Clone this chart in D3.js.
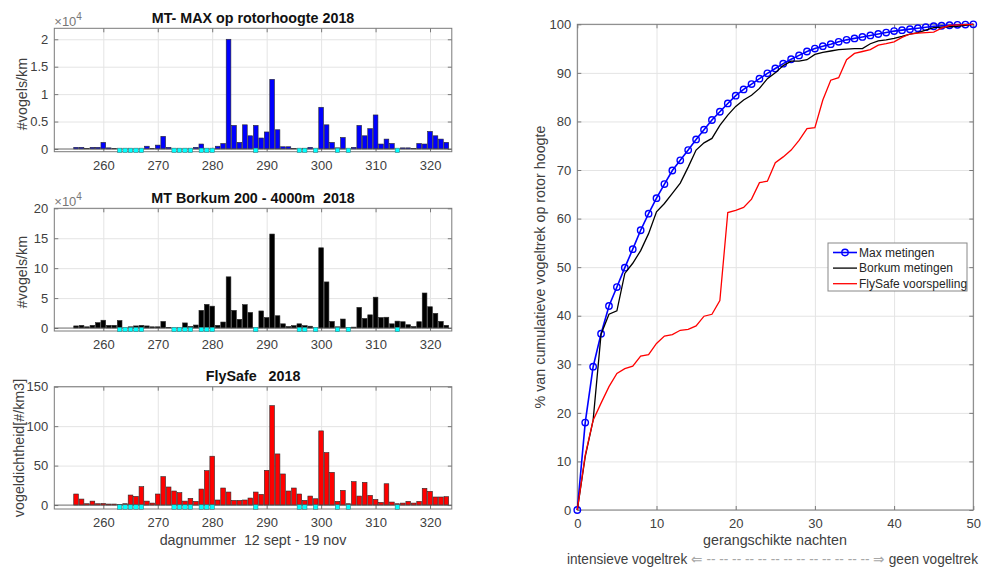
<!DOCTYPE html>
<html>
<head>
<meta charset="utf-8">
<script src="https://cdn.jsdelivr.net/npm/d3@7"></script>
<style>
body{margin:0;background:#fff}
svg{font-family:"Liberation Sans",Arial,Helvetica,sans-serif}
svg text{white-space:pre}
</style>
</head>
<body>
<svg id="chart" width="982" height="567"></svg>
<script>
// Day numbers 255..323 (12 sept - 19 nov)
const days=d3.range(255,324);
const dayTicks=[260,270,280,290,300,310,320];

// MT-MAX at rotor height, birds/km
const maxRotor=[300,300,50,300,300,1200,200,100,0,0,0,0,0,500,50,700,2300,300,0,0,0,0,300,900,0,0,
  500,1000,20000,4300,1200,4400,2400,4300,2000,3100,12700,3500,400,400,100,0,100,300,0,7600,
  4400,1200,200,2100,0,300,4300,2400,3700,6200,900,1800,1000,0,200,200,100,1000,900,3200,2400,1800,1200];
// MT Borkum 200-4000 m, birds/km
const borkum=[3500,4500,2000,4500,9000,13000,4500,4500,12500,0,2000,3500,4500,3500,2000,2000,11000,1000,0,0,
  8500,2500,5000,29500,39500,36500,4500,10000,85500,29500,14500,39000,26000,0,28500,17500,157000,20500,7000,2500,
  4000,7000,4000,3000,0,134000,77000,11000,2000,15000,1000,1500,34500,16000,22000,51500,17500,18000,7000,11500,
  10500,5500,2500,10500,58500,35500,24500,11000,4500];
// FlySafe bird density, #/km3
const flySafe=[14,7.6,1.7,5,1.7,2,1.3,1.3,0.8,1.7,12.7,11,23.3,5,2.5,14,36,22.9,17.8,15.7,5,8.5,4.7,20.3,43.6,61.9,
  6.4,21.6,16.5,5.9,5.9,6.4,8.9,16.5,13.6,44,126,64.8,39.4,17.8,21.6,14,5.9,11.4,8,94,66.5,41.5,4.7,18.6,1.7,
  29.7,11.4,28.8,12.3,7.2,3.4,27,3.8,1.7,2.5,4.7,2.5,4.7,21.2,17.4,10.2,10.2,10.6];
// days marked cyan under the bars
const markedDays=[263,264,265,266,267,273,274,275,276,278,279,280,288,296,297,299,303,305,314];

// Ranked nights, cumulative %
const ranks=d3.range(0,51);
const cumMax=[0,18.0,29.5,36.3,42.0,45.9,49.9,53.7,57.6,61.0,64.2,67.1,69.9,72.0,74.1,76.3,78.3,80.3,82.0,83.7,
  85.3,86.6,87.7,88.8,89.9,90.9,91.9,92.8,93.6,94.4,95.0,95.5,95.9,96.4,96.8,97.1,97.4,97.7,98.0,98.3,
  98.6,98.8,99.0,99.2,99.4,99.6,99.7,99.8,99.9,99.95,100];
const cumBorkum=[0,11,18.5,36.2,40.3,41.0,48.7,50.8,53.4,56.9,61.4,63.1,65.2,67.3,70.6,74.1,75.6,76.5,79.2,81.3,
  83.1,84.4,85.4,86.8,88.8,90.0,91.5,92.4,92.4,92.7,93.8,94.2,94.5,94.8,94.9,95.0,95.0,96.0,96.6,96.8,
  97.1,97.5,98.0,98.3,98.8,99.3,99.4,99.5,99.6,99.8,100];
const cumFlySafe=[0,11.3,18.5,22,25.4,28.1,29.1,29.6,31.7,32.0,34.3,35.8,36.1,37.0,37.2,37.9,39.9,40.3,43.1,61.25,
  61.7,62.3,64.0,67.4,67.7,71.5,72.7,74.1,76.1,78.5,78.7,84.4,88.5,89.0,92.7,94.0,94.4,94.8,95.7,96.0,
  96.4,97.3,98.0,98.2,98.3,98.4,99.2,99.8,99.9,99.95,100];
const legendLabels=["Max metingen","Borkum metingen","FlySafe voorspelling"];

const svg=d3.select("#chart");
const colText="#404040",colAxis="#7a7a7a",colGrid="#e4e4e4";
const fsTick="13px",fsLabel="14.3px";

// draw grid+ticks+frame for an axes box
function axesBox(g,x,y,xt,yt,xfmt,yfmt){
  const [x0,x1]=x.range(),[y1,y0]=y.range();
  g.append("g").attr("transform","translate(0,"+y1+")")
    .call(d3.axisBottom(x).tickValues(xt).tickSize(-(y1-y0)).tickFormat(""))
    .call(a=>{a.select(".domain").remove();a.selectAll("line").attr("stroke",colGrid)});
  g.append("g").attr("transform","translate("+x0+",0)")
    .call(d3.axisLeft(y).tickValues(yt).tickSize(-(x1-x0)).tickFormat(""))
    .call(a=>{a.select(".domain").remove();a.selectAll("line").attr("stroke",colGrid)});
  const front=g.append("g").attr("class","front");
  return function(){
    const s=a=>{a.select(".domain").remove();a.selectAll("line").attr("stroke",colAxis);
      a.selectAll("text").attr("fill",colText).attr("font-size",fsTick).attr("font-family",null)};
    front.append("g").attr("transform","translate(0,"+y1+")")
      .call(d3.axisBottom(x).tickValues(xt).tickSize(-4).tickPadding(9).tickFormat(xfmt)).call(s);
    front.append("g").attr("transform","translate(0,"+y0+")")
      .call(d3.axisTop(x).tickValues(xt).tickSize(-4).tickFormat("")).call(s);
    front.append("g").attr("transform","translate("+x0+",0)")
      .call(d3.axisLeft(y).tickValues(yt).tickSize(-4).tickPadding(6).tickFormat(yfmt)).call(s);
    front.append("g").attr("transform","translate("+x1+",0)")
      .call(d3.axisRight(y).tickValues(yt).tickSize(-4).tickFormat("")).call(s);
    front.append("rect").attr("x",x0).attr("y",y0).attr("width",x1-x0).attr("height",y1-y0)
      .attr("fill","none").attr("stroke",colAxis);
  };
}

// ---- left: three bar panels
const xL=d3.scaleLinear().domain([251,324]).range([54.3,451.8]);
const bw=(xL(1)-xL(0))*0.86;

function barPanel(o){
  const y=d3.scaleLinear().domain(o.domain).range([o.bottom,o.top]);
  const g=svg.append("g");
  const finish=axesBox(g,xL,y,dayTicks,o.ticks,d=>d,o.fmt);
  g.selectAll("rect.bar").data(days.map((d,i)=>({d,v:o.values[i]}))).enter().append("rect")
    .attr("class","bar")
    .attr("x",p=>xL(p.d)-bw/2).attr("width",bw)
    .attr("y",p=>y(p.v)).attr("height",p=>y(0)-y(p.v))
    .attr("fill",o.color).attr("stroke","#2a2a2a").attr("stroke-width",0.6);
  // bar baseline
  g.append("line").attr("x1",xL.range()[0]).attr("x2",xL.range()[1])
    .attr("y1",y(0)).attr("y2",y(0)).attr("stroke","#555").attr("stroke-width",0.8);
  // cyan day markers
  const my=y(o.domain[0]/2),ms=4.4;
  g.selectAll("rect.mk").data(markedDays).enter().append("rect")
    .attr("class","mk")
    .attr("x",d=>xL(d)-ms/2).attr("y",my-ms/2).attr("width",ms).attr("height",ms)
    .attr("fill","#00ffff").attr("stroke","#3a6a6a").attr("stroke-width",0.5);
  finish();
  const cx=(xL.range()[0]+xL.range()[1])/2;
  g.append("text").attr("x",cx).attr("y",o.top-5.5).attr("text-anchor","middle")
    .attr("font-size",fsLabel).attr("font-weight","bold").attr("fill","#111").text(o.title);
  g.append("text").attr("transform","translate("+o.labelX+","+o.labelY+") rotate(-90)")
    .attr("text-anchor","middle").attr("font-size",fsLabel).attr("fill",colText).text(o.ylabel);
  if(o.exp){
    const t=g.append("text").attr("x",xL.range()[0]).attr("y",o.top-2)
      .attr("font-size","13px").attr("fill","#777").text("\u00d710");
    t.append("tspan").attr("dy","-6").attr("font-size","10px").text("4");
  }
  return y;
}

barPanel({values:maxRotor,color:"#0000ff",domain:[-500,22000],top:28.3,bottom:151.7,
  ticks:[0,5000,10000,15000,20000],fmt:d=>d/1e4,title:"MT- MAX op rotorhoogte 2018",
  ylabel:"#vogels/km",labelX:27,labelY:94,exp:true});
barPanel({values:borkum,color:"#000000",domain:[-5000,200000],top:208.3,bottom:331,
  ticks:[0,50000,100000,150000,200000],fmt:d=>d/1e4,title:"MT Borkum 200 - 4000m  2018",
  ylabel:"#vogels/km",labelX:27,labelY:272,exp:true});
barPanel({values:flySafe,color:"#ff0000",domain:[-5,150],top:386.7,bottom:509,
  ticks:[0,50,100,150],fmt:d=>d,title:"FlySafe   2018",
  ylabel:"vogeldichtheid[#/km3]",labelX:24,labelY:448,exp:false});

svg.append("text").attr("x",(xL.range()[0]+xL.range()[1])/2).attr("y",545).attr("text-anchor","middle")
  .attr("font-size",fsLabel).attr("fill",colText).text("dagnummer  12 sept - 19 nov");

// ---- right: cumulative curves
const xR=d3.scaleLinear().domain([0,50]).range([577.3,973.3]);
const yR=d3.scaleLinear().domain([0,100]).range([510,24.3]);
const gR=svg.append("g");
const finishR=axesBox(gR,xR,yR,d3.range(0,51,10),d3.range(0,101,10),d=>d,d=>d);
const line=d3.line().x((d,i)=>xR(ranks[i])).y(d=>yR(d));

gR.append("path").datum(cumMax).attr("d",line).attr("fill","none").attr("stroke","#0000ff").attr("stroke-width",1.6);
gR.selectAll("circle.mx").data(cumMax).enter().append("circle").attr("class","mx")
  .attr("cx",(d,i)=>xR(ranks[i])).attr("cy",d=>yR(d)).attr("r",3.2)
  .attr("fill","none").attr("stroke","#0000ff").attr("stroke-width",1.4);
gR.append("path").datum(cumBorkum).attr("d",line).attr("fill","none").attr("stroke","#000").attr("stroke-width",1.3);
gR.append("path").datum(cumFlySafe).attr("d",line).attr("fill","none").attr("stroke","#ff0000").attr("stroke-width",1.3);
finishR();

svg.append("text").attr("transform","translate(545,267) rotate(-90)").attr("text-anchor","middle")
  .attr("font-size",fsLabel).attr("fill",colText).text("% van cumulatieve vogeltrek op rotor hoogte");
svg.append("text").attr("x",775).attr("y",545).attr("text-anchor","middle")
  .attr("font-size",fsLabel).attr("fill",colText).text("gerangschikte nachten");
// arrow line under the x label, fitted to the reference width
const bt=svg.append("text").attr("x",567).attr("y",564)
  .attr("font-size","14px").attr("fill",colText)
  .attr("textLength",411).attr("lengthAdjust","spacingAndGlyphs");
bt.append("tspan").text("intensieve vogeltrek ");
bt.append("tspan").attr("fill","#a8a8a8").text("\u21d0 "+d3.range(13).map(()=>"--").join(" ")+" \u21d2");
bt.append("tspan").text(" geen vogeltrek");

// legend
const lg=svg.append("g").attr("transform","translate(828,243)");
lg.append("rect").attr("width",139).attr("height",48).attr("fill","#fff").attr("stroke","#888");
const lcol=["#0000ff","#000","#ff0000"];
legendLabels.forEach((t,i)=>{
  const yy=9.5+i*15.6;
  lg.append("line").attr("x1",5).attr("x2",29).attr("y1",yy).attr("y2",yy).attr("stroke",lcol[i]).attr("stroke-width",i?1.3:1.6);
  if(i===0)lg.append("circle").attr("cx",17).attr("cy",yy).attr("r",3.2).attr("fill","none").attr("stroke",lcol[0]).attr("stroke-width",1.4);
  lg.append("text").attr("x",31).attr("y",yy+4.3).attr("font-size","12px").attr("fill","#262626").text(t);
});
</script>
</body>
</html>
